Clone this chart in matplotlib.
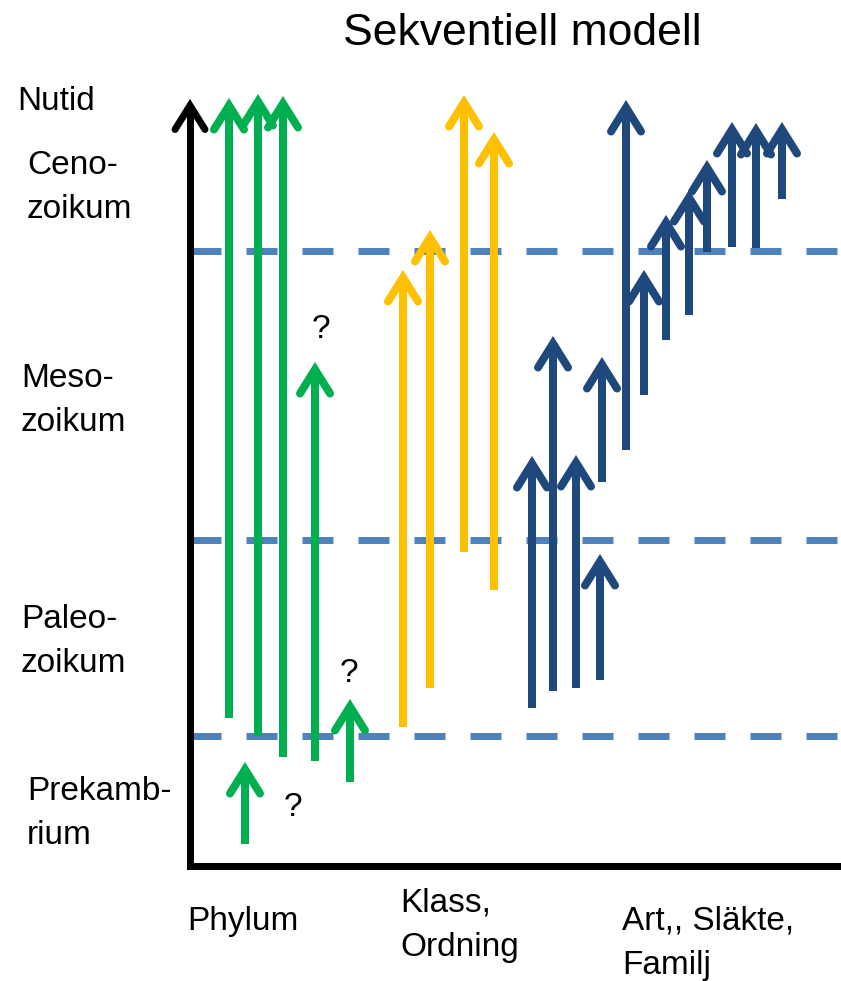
import matplotlib
matplotlib.use('Agg')
from matplotlib import pyplot as plt

plt.rcParams['font.family'] = ['Liberation Sans', 'DejaVu Sans']
plt.rcParams['lines.scale_dashes'] = False

W, H = 841, 981

# arrows: x position, bottom (start) and tip (end) on the canvas scale
phylum_x = [229, 258, 283, 315, 350, 245]
phylum_bottom = [718, 736, 757, 761, 782, 844]
phylum_top = [98, 94, 96, 362, 699, 762]

klass_x = [403, 430, 464, 494]
klass_bottom = [727, 688, 552, 590]
klass_top = [270, 230, 95, 132]

art_x = [532, 553, 576, 600, 602, 626, 644, 666, 689, 707, 732, 756, 782]
art_bottom = [708, 691, 688, 680, 482, 450, 395, 340, 315, 252, 247, 248, 199]
art_top = [456, 336, 455, 554, 357, 100, 270, 215, 190, 160, 122, 123, 122]

era_borders = [251, 540, 736]

era_labels = ['Nutid', 'Ceno-\nzoikum', 'Meso-\nzoikum', 'Paleo-\nzoikum', 'Prekamb-\nrium']
era_label_pos = [(17, 110), (27, 174), (21, 387), (21, 628), (27, 800)]

rank_labels = ['Phylum', 'Klass,\nOrdning', 'Art,, Släkte,\nFamilj']
rank_label_pos = [(187, 930), (400, 912), (622, 930)]

question_pos = [(321, 329), (349, 673), (293, 808)]

GREEN = '#00B050'
YELLOW = '#FFC000'
BLUE = '#1F497D'
DASH = '#4F81BD'

PX = 0.72  # points per pixel at dpi 100
LINE_GAP = 44  # pixels between text lines


def draw_arrow(ax, x, y0, y1, color, lw_px=8, hw=15, hl=24):
    apex = y1 + 7.5
    ax.plot([x, x], [y0, apex], color=color, lw=lw_px * PX,
            solid_capstyle='butt', zorder=3)
    ax.plot([x - hw, x, x + hw], [apex + hl, apex, apex + hl], color=color,
            lw=lw_px * PX, solid_capstyle='round', solid_joinstyle='miter',
            zorder=3)


def put_label(ax, text, x, y_first):
    # va='baseline' pins the last line, so shift by the number of extra lines
    n = text.count('\n')
    ax.text(x, y_first + n * LINE_GAP, text, fontsize=24, ha='left',
            va='baseline', linespacing=1.55)


fig = plt.figure(figsize=(W / 100, H / 100), dpi=100)
ax = fig.add_axes([0, 0, 1, 1])
ax.set_xlim(0, W)
ax.set_ylim(H, 0)
ax.axis('off')

# era borders
for y in era_borders:
    ax.plot([190, W], [y, y], color=DASH, lw=7 * PX, dashes=(31 * PX, 25 * PX),
            dash_capstyle='butt', zorder=1)

# axes
ax.plot([190, W], [866, 866], color='black', lw=7 * PX, solid_capstyle='projecting', zorder=2)
draw_arrow(ax, 190, 866, 98, 'black', lw_px=7)

for x, b, t in zip(phylum_x, phylum_bottom, phylum_top):
    draw_arrow(ax, x, b, t, GREEN)
for x, b, t in zip(klass_x, klass_bottom, klass_top):
    draw_arrow(ax, x, b, t, YELLOW)
for x, b, t in zip(art_x, art_bottom, art_top):
    draw_arrow(ax, x, b, t, BLUE)

for (x, y) in question_pos:
    ax.text(x, y, '?', fontsize=24, ha='center', va='center')

for lab, (x, y) in zip(era_labels, era_label_pos):
    put_label(ax, lab, x, y)

for lab, (x, y) in zip(rank_labels, rank_label_pos):
    put_label(ax, lab, x, y)

ax.text(522, 45, 'Sekventiell modell', fontsize=32, ha='center', va='baseline')

fig.savefig('out.png', dpi=100)
